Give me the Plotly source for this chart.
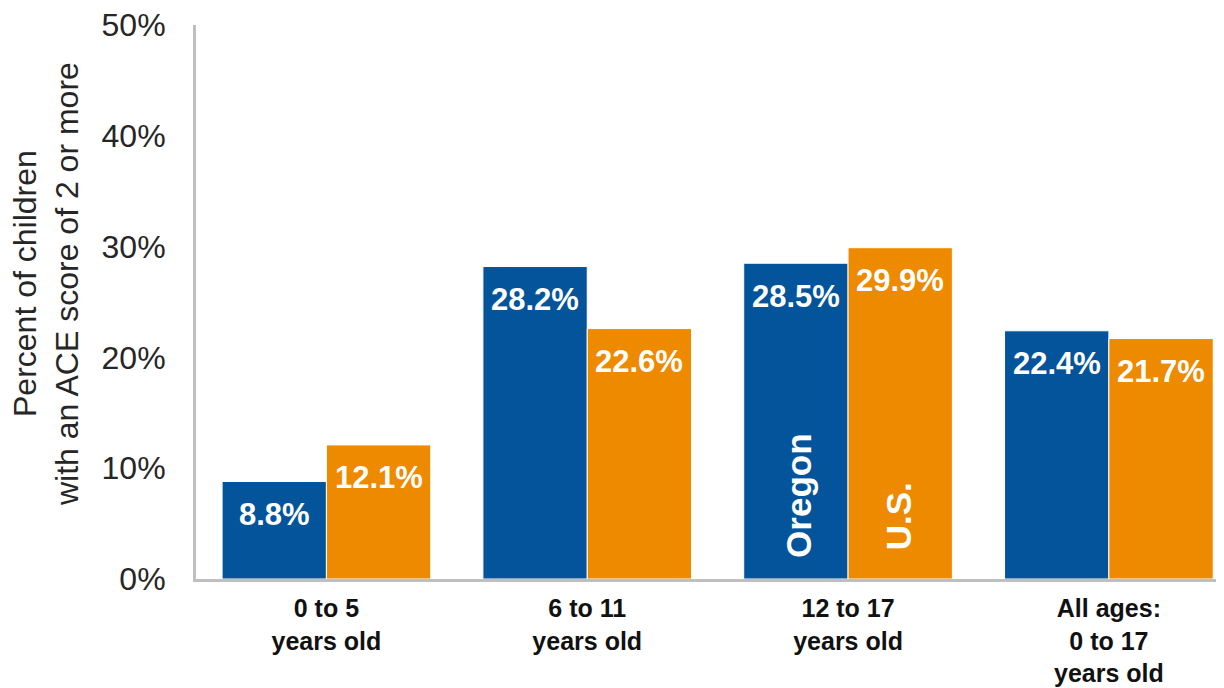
import plotly.graph_objects as go

categories = ["0 to 5<br>years old", "6 to 11<br>years old", "12 to 17<br>years old", "All ages:<br>0 to 17<br>years old"]
oregon = [8.8, 28.2, 28.5, 22.4]
us = [12.1, 22.6, 29.9, 21.7]
y_ticks = [0, 10, 20, 30, 40, 50]
y_tick_labels = ["0%", "10%", "20%", "30%", "40%", "50%"]
y_title = "Percent of children<br>with an ACE score of 2 or more"

BLUE = "#03549A"
ORANGE = "#EE8A00"
FONT = "Liberation Sans, Arial, sans-serif"

# page body has an 8px margin, so the figure is sized/offset accordingly
W, H = 1216, 680
L, R, T, B = 188, 4, 17, 109
PW, PH = W - L - R, H - T - B
x_range = [-0.5, 3.426]
bargap = 0.2
ppu = PW / (x_range[1] - x_range[0])
half = (1 - bargap) / 4 * ppu  # offset of each bar center from category center

fig = go.Figure()
fig.add_trace(go.Bar(x=categories, y=oregon, name="Oregon", marker=dict(color=BLUE, line=dict(color="white", width=1))))
fig.add_trace(go.Bar(x=categories, y=us, name="U.S.", marker=dict(color=ORANGE, line=dict(color="white", width=1))))

ann = []
for c, v in zip(categories, oregon):
    ann.append(dict(x=c, y=v, xref="x", yref="y", text=f"<b>{v:.1f}%</b>", showarrow=False,
                    xshift=-half, yshift=-33, yanchor="middle",
                    font=dict(family=FONT, size=31, color="white")))
for c, v in zip(categories, us):
    ann.append(dict(x=c, y=v, xref="x", yref="y", text=f"<b>{v:.1f}%</b>", showarrow=False,
                    xshift=half, yshift=-33, yanchor="middle",
                    font=dict(family=FONT, size=31, color="white")))
# series names inside the 12-17 bars
ann.append(dict(x=categories[2], y=0, xref="x", yref="y", text="<b>Oregon</b>", showarrow=False,
                textangle=-90, xshift=-half + 2, yshift=19, yanchor="bottom",
                font=dict(family=FONT, size=35, color="white")))
ann.append(dict(x=categories[2], y=0, xref="x", yref="y", text="<b>U.S.</b>", showarrow=False,
                textangle=-90, xshift=half - 2, yshift=27, yanchor="bottom",
                font=dict(family=FONT, size=35, color="white")))
# y-axis title
ann.append(dict(x=(38 - L) / PW, y=(H - B - 276) / PH, xref="paper", yref="paper", text=y_title,
                showarrow=False, textangle=-90, xanchor="center", yanchor="middle",
                font=dict(family=FONT, size=32, color="#262626")))

fig.update_layout(
    width=W, height=H,
    margin=dict(l=L, r=R, t=T, b=B, autoexpand=False),
    paper_bgcolor="white", plot_bgcolor="white",
    barmode="group", bargap=bargap, bargroupgap=0,
    showlegend=False,
    font=dict(family=FONT, color="#262626"),
    annotations=ann,
)
fig.update_xaxes(
    range=x_range, showgrid=False, showline=True, linecolor="#BFBFBF", linewidth=3,
    ticks="", tickfont=dict(family=FONT, size=25, color="#111111"),
    tickprefix="<b>", ticksuffix="</b>", ticklabelstandoff=5,
    ticklabeloverflow="allow",
)
fig.update_yaxes(
    range=[0, 50], tickvals=y_ticks, ticktext=y_tick_labels, showgrid=False, zeroline=False,
    showline=True, linecolor="#BFBFBF", linewidth=3, ticks="",
    tickfont=dict(family=FONT, size=32, color="#262626"), ticklabelstandoff=21,
    ticklabeloverflow="allow",
)

fig.write_html("out.html")
